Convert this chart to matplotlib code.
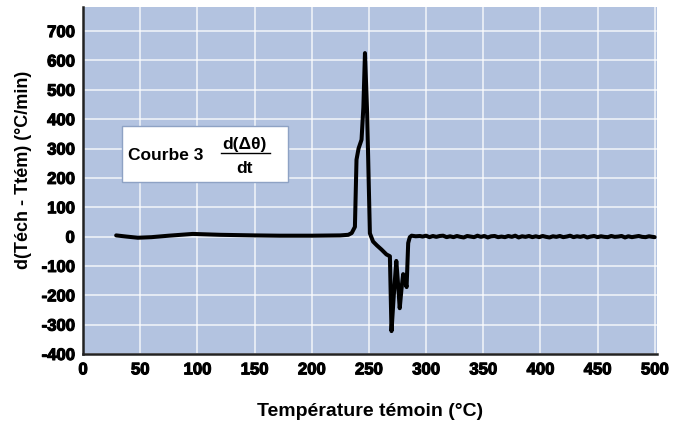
import matplotlib
matplotlib.use("Agg")
import matplotlib.pyplot as plt
import matplotlib.patheffects as pe
from matplotlib.patches import Rectangle
from matplotlib.lines import Line2D

plt.rcParams["axes.unicode_minus"] = False

# --- data ---
temp_main = [29, 38, 48, 60, 75, 96, 120, 150, 172, 200, 225, 232, 235, 237.8,
             239.2, 241, 243.6, 245.2, 246.6, 248.5, 250.9, 253.7, 257, 261,
             265.4, 268.4, 269.8, 271.8, 274, 275.5, 277, 278.5, 280, 281.5,
             283, 284.4, 285.8, 287.4, 291, 294.6]
dtdt_main = [4, 0, -4, -2, 3, 9, 6, 4, 3, 3, 4, 6, 12, 33,
             262, 300, 330, 440, 625, 420, 11, -17, -30, -44,
             -61, -67, -322, -200, -83, -160, -244, -180, -128, -150,
             -172, -22, -2, 3, 1, 2]

temp_tail = [297, 300, 303, 306, 309, 312, 315, 318, 321, 324, 327, 330, 333, 336,
             339, 342, 345, 348, 351, 354, 357, 360, 363, 366, 369, 372, 375, 378,
             381, 384, 387, 390, 393, 396, 399, 402, 405, 408, 411, 414, 417, 420,
             423, 426, 429, 432, 435, 438, 441, 444, 447, 450, 453, 456, 459, 462,
             465, 468, 471, 474, 477, 480, 483, 486, 489, 492, 495, 498, 500]
dtdt_tail = [0, 3, -2, 2, -1, 2, 3, -2, 1, -2, 2, -1, -3, 2, 0, -2, 3, -1, 2,
             -3, 1, 2, -2, 0, -2, 2, -1, 3, -3, 1, -1, 2, -2, 1, -2, 2, -1, -3,
             1, -1, 2, -2, 0, 3, -2, 1, -1, 2, -3, 0, 2, -2, 1, -1, -2, 2, -1,
             0, 2, -3, 1, -2, 0, 2, -1, -2, 1, -1, -2]

temps = temp_main + temp_tail
values = dtdt_main + dtdt_tail

x_ticks = [0, 50, 100, 150, 200, 250, 300, 350, 400, 450, 500]
y_ticks = [-400, -300, -200, -100, 0, 100, 200, 300, 400, 500, 600, 700]

bg = "#b3c3e0"
font = ["Liberation Sans", "DejaVu Sans"]
heavy = [pe.withStroke(linewidth=0.8, foreground="black")]

fig = plt.figure(figsize=(6.78, 4.23), dpi=100)
ax = fig.add_axes([83 / 678, 69 / 423, 574 / 678, 347 / 423])
ax.set_facecolor(bg)

ax.plot(temps, values, color="black", linewidth=2.9, solid_joinstyle="round",
        solid_capstyle="round", zorder=3)

ax.set_xlim(0, 502)
ax.set_ylim(-400, 782)
ax.set_xticks(x_ticks)
ax.set_yticks(y_ticks)
ax.grid(True, color="white", linewidth=1.3, alpha=0.7)
ax.set_axisbelow(True)
ax.tick_params(length=0, pad=6)
for lab in ax.get_xticklabels() + ax.get_yticklabels():
    lab.set_family(font)
    lab.set_fontweight("bold")
    lab.set_fontsize(12)
    lab.set_path_effects(heavy)

for side in ["top", "right"]:
    ax.spines[side].set_visible(False)
for side in ["left", "bottom"]:
    ax.spines[side].set_linewidth(1.8)
    ax.spines[side].set_color("#222222")

ax.set_ylabel("d(Téch - Ttém) (°C/min)", family=font, fontweight="bold",
              fontsize=13)
ax.yaxis.set_label_coords(-0.088, 0.53)
ax.set_xlabel("Température témoin (°C)", family=font, fontweight="bold",
              fontsize=14)
ax.xaxis.set_label_coords(0.5, -0.142)

# legend-like box
ax.add_patch(Rectangle((0.068, 0.496), 0.289, 0.161, transform=ax.transAxes,
                       facecolor="white", edgecolor="#8ea2c4", linewidth=1,
                       zorder=4))
ax.text(0.078, 0.573, "Courbe 3", transform=ax.transAxes, family=font,
        fontweight="bold", fontsize=12.5, va="center", ha="left", zorder=5)
ax.text(0.282, 0.604, "d(Δθ)", transform=ax.transAxes, family=font,
        fontweight="bold", fontsize=12.5, va="center", ha="center", zorder=5)
ax.add_line(Line2D([0.240, 0.326], [0.578, 0.578], transform=ax.transAxes,
                   color="black", linewidth=1, zorder=5))
ax.text(0.282, 0.536, "dt", transform=ax.transAxes, family=font,
        fontweight="bold", fontsize=12.5, va="center", ha="center", zorder=5)

fig.savefig("out.png", dpi=100)
